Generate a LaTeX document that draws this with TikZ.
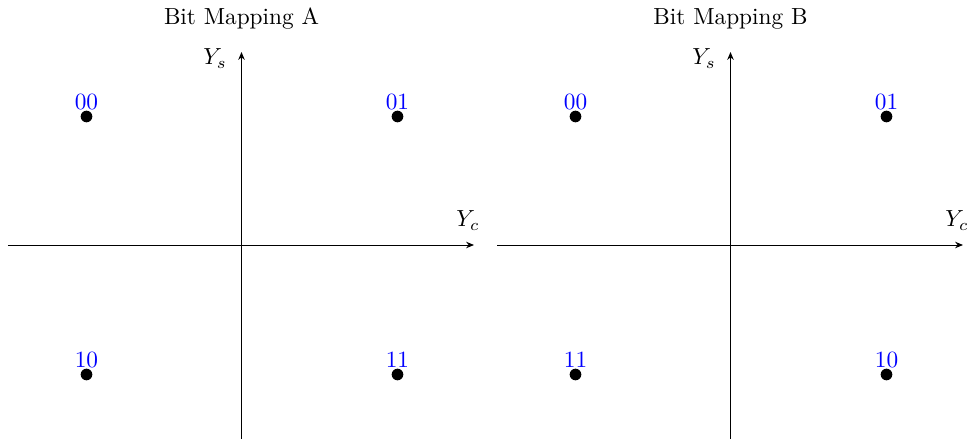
\documentclass[tikz,border=0pt]{standalone}
\usetikzlibrary{arrows.meta}
\begin{document}
\begin{tikzpicture}[x=0.4293pt,y=-0.4293pt,
  axisline/.style={line width=0.4pt,-{Stealth[length=3.4pt,width=2.8pt]}},
  dot/.style={circle,fill=black,inner sep=0pt,minimum size=5pt},
  bits/.style={text=blue,anchor=base,inner sep=0pt},
  lbl/.style={anchor=base,inner sep=0pt}]
\useasboundingbox (0,0) rectangle (968,439);
% ---------- Panel A ----------
\coordinate (axLA) at (8,245);
\coordinate (axRA) at (474,245);
\coordinate (ayBA) at (241.5,439);
\coordinate (ayTA) at (241.5,52);
\draw[axisline] (axLA) -- (axRA);
\draw[axisline] (ayBA) -- (ayTA);
\node[lbl] (tA) at (241.5,25) {Bit Mapping A};
\node[lbl] (ysA) at (215,65) {$Y_s$};
\node[lbl] (ycA) at (468,227) {$Y_c$};
\node[dot] (pA1) at (86.5,116.5) {};
\node[dot] (pA2) at (397.5,116.5) {};
\node[dot] (pA3) at (86.5,374.5) {};
\node[dot] (pA4) at (397.5,374.5) {};
\node[bits] (bA1) at (86.5,109.5) {00};
\node[bits] (bA2) at (397.5,109.5) {01};
\node[bits] (bA3) at (86.5,367.5) {10};
\node[bits] (bA4) at (397.5,367.5) {11};
% ---------- Panel B ----------
\begin{scope}[shift={(489,0)}]
\coordinate (axLB) at (8,245);
\coordinate (axRB) at (474,245);
\coordinate (ayBB) at (241.5,439);
\coordinate (ayTB) at (241.5,52);
\draw[axisline] (axLB) -- (axRB);
\draw[axisline] (ayBB) -- (ayTB);
\node[lbl] (tB) at (241.5,25) {Bit Mapping B};
\node[lbl] (ysB) at (215,65) {$Y_s$};
\node[lbl] (ycB) at (468,227) {$Y_c$};
\node[dot] (pB1) at (86.5,116.5) {};
\node[dot] (pB2) at (397.5,116.5) {};
\node[dot] (pB3) at (86.5,374.5) {};
\node[dot] (pB4) at (397.5,374.5) {};
\node[bits] (bB1) at (86.5,109.5) {00};
\node[bits] (bB2) at (397.5,109.5) {01};
\node[bits] (bB3) at (86.5,367.5) {11};
\node[bits] (bB4) at (397.5,367.5) {10};
\end{scope}
\end{tikzpicture}
\end{document}
